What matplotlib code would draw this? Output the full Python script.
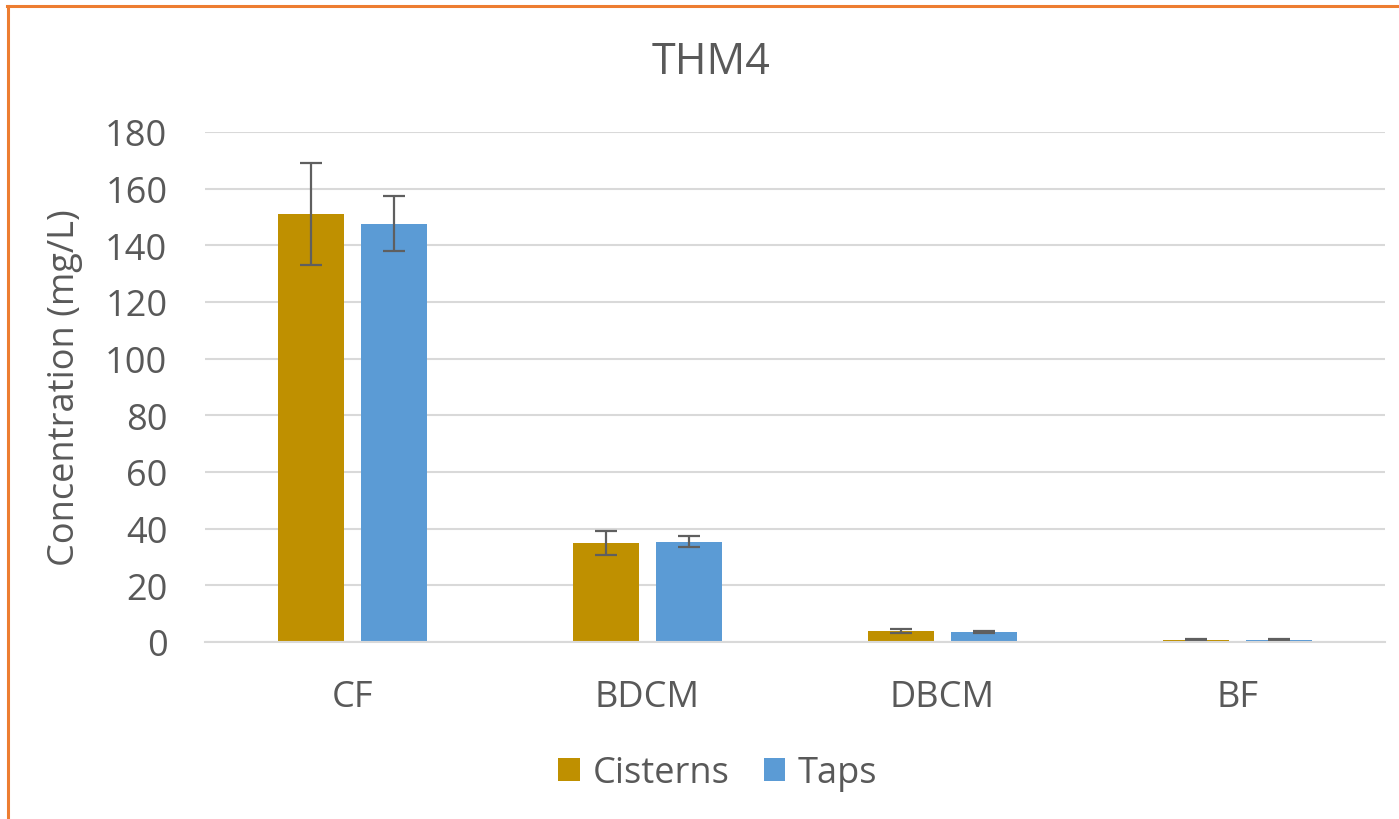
"""THM4 concentrations, cisterns vs taps"""

import numpy as np
import matplotlib.pyplot as plt
from matplotlib.lines import Line2D

compounds = ['CF', 'BDCM', 'DBCM', 'BF']
cisterns = [151.0, 35.0, 4.0, 0.7]
cisterns_err = [18.0, 4.3, 0.7, 0.2]
taps = [147.5, 35.4, 3.5, 0.8]
taps_err = [9.7, 1.8, 0.3, 0.2]

text_gray = '#595959'
plt.rcParams['font.family'] = ['Open Sans', 'DejaVu Sans']

fig = plt.figure(figsize=(13.99, 8.2), dpi=100, facecolor='white')
ax = fig.add_axes([0.1465, 0.216, 0.8435, 0.622])

x = np.arange(len(compounds))
w = 0.224
off = 0.142
err_kw = dict(ecolor='#5f5f5f', elinewidth=1.6, capsize=8, capthick=1.6)
ax.bar(x - off, cisterns, w, yerr=cisterns_err, color='#BF9000',
       label='Cisterns', error_kw=err_kw, zorder=3)
ax.bar(x + off, taps, w, yerr=taps_err, color='#5B9BD5',
       label='Taps', error_kw=err_kw, zorder=3)

ax.set_xlim(-0.5, len(compounds) - 0.5)
ax.set_ylim(0, 180)
ax.set_yticks(range(0, 181, 20))
ax.set_xticks(x)
ax.set_xticklabels(compounds)
ax.tick_params(axis='both', length=0, labelsize=26, colors=text_gray)
ax.tick_params(axis='x', pad=27)
ax.tick_params(axis='y', pad=27)
ax.yaxis.grid(True, color='#d9d9d9', linewidth=1.5, zorder=0)
for s in ['top', 'right', 'left']:
    ax.spines[s].set_visible(False)
ax.spines['bottom'].set_color('#d9d9d9')
ax.spines['bottom'].set_linewidth(1.5)
ax.spines['bottom'].set_zorder(4)

ax.set_ylabel('Concentration (mg/L)', fontsize=26, color=text_gray, labelpad=16)
fig.text(0.508, 0.923, 'THM4', ha='center', va='center', fontsize=31, color=text_gray)

leg = fig.legend(loc='center', bbox_to_anchor=(0.513, 0.056), ncol=2, frameon=False,
                 fontsize=26, handlelength=0.6, handleheight=0.6,
                 columnspacing=0.95, handletextpad=0.35)
for t in leg.get_texts():
    t.set_color(text_gray)

# orange chart-area frame (top and left edges visible)
fig.add_artist(Line2D([0.005, 1.0], [0.9915, 0.9915], color='#ED7D31', linewidth=2.2,
                      transform=fig.transFigure))
fig.add_artist(Line2D([0.0055, 0.0055], [0.0, 0.992], color='#ED7D31', linewidth=2.2,
                      transform=fig.transFigure))

plt.savefig('out.png', dpi=100, facecolor='white')
